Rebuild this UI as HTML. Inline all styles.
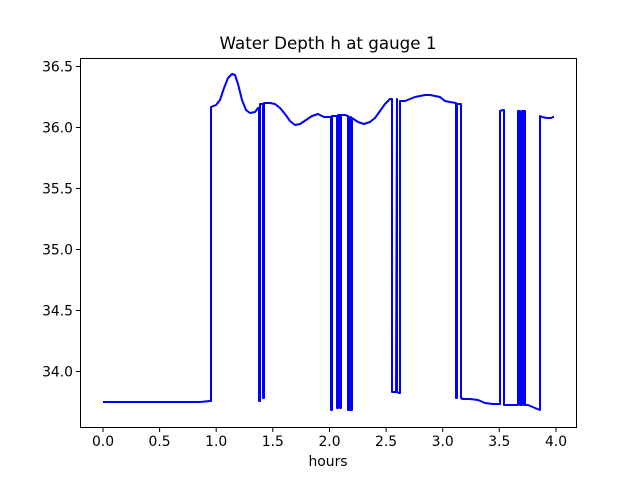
<!DOCTYPE html>
<html><head><meta charset="utf-8"><style>body{margin:0;background:#fff}svg{display:block}text{font-family:"DejaVu Sans","Liberation Sans",sans-serif;font-size:13.9px;fill:#000}</style></head><body>
<svg width="640" height="480" viewBox="0 0 640 480">
<rect width="640" height="480" fill="#fff"/>
<text x="328" y="49" text-anchor="middle" style="font-size:16.7px">Water Depth h at gauge 1</text>
<polyline fill="none" stroke="#0000ff" stroke-width="2" stroke-linejoin="round" points="
103,402 200,402 210,401 211,401 211,107 216,105 220,100 224,88 228,78 232,74 235,75 238,84 242,100 246,110 250,113 255,112 258,108 259,108 259,401 260,401 260,104 263,104 263,398 264,398 264,103 270,103 275,104 280,108 285,114 290,121 295,125 300,124 306,120 312,116 318,114 324,117 330,117 331,117 331,410 332,410 332,116 337,116 337,408 338,408 338,115 340,115 340,408 341,408 341,115 345,115 348,116 348,410 350,410 350,117 351,117 351,410 352,410 352,118 358,122 364,124 370,122 375,118 380,111 385,104 390,99 392,99 392,392 396,392 397,99 397,392 399,393 400,393 400,101 405,101 410,99 415,97 420,96 425,95 430,95 435,96 440,97 445,101 450,102 456,103 456,398 457,398 457,104 461,104 461,398 462,398 462,399 470,399 478,400 485,403 493,404 500,404 500,111 503,110 504,110 504,405 510,405 518,405 518,111 520,111 520,405 522,405 522,111 524,111 524,405 525,405 525,111 525,405 528,405 535,408 540,410 540,116 542,117 547,118 551,118 553,117 554,117"/>
<rect x="80.5" y="58.5" width="496" height="369" fill="none" stroke="#000" stroke-width="1"/>
<g stroke="#000" stroke-width="1">
<line x1="103" y1="427.5" x2="103" y2="432"/><line x1="159.6" y1="427.5" x2="159.6" y2="432"/><line x1="216.2" y1="427.5" x2="216.2" y2="432"/><line x1="272.8" y1="427.5" x2="272.8" y2="432"/><line x1="329.5" y1="427.5" x2="329.5" y2="432"/><line x1="386.1" y1="427.5" x2="386.1" y2="432"/><line x1="442.7" y1="427.5" x2="442.7" y2="432"/><line x1="499.3" y1="427.5" x2="499.3" y2="432"/><line x1="556" y1="427.5" x2="556" y2="432"/>
<line x1="76" y1="66.5" x2="80.5" y2="66.5"/><line x1="76" y1="127.5" x2="80.5" y2="127.5"/><line x1="76" y1="188.5" x2="80.5" y2="188.5"/><line x1="76" y1="249.5" x2="80.5" y2="249.5"/><line x1="76" y1="310.5" x2="80.5" y2="310.5"/><line x1="76" y1="371.5" x2="80.5" y2="371.5"/>
</g>
<g text-anchor="middle">
<text x="103" y="446">0.0</text><text x="159.6" y="446">0.5</text><text x="216.2" y="446">1.0</text><text x="272.8" y="446">1.5</text><text x="329.5" y="446">2.0</text><text x="386.1" y="446">2.5</text><text x="442.7" y="446">3.0</text><text x="499.3" y="446">3.5</text><text x="556" y="446">4.0</text>
<text x="328" y="466">hours</text>
</g>
<g text-anchor="end">
<text x="73" y="71.5">36.5</text><text x="73" y="132.5">36.0</text><text x="73" y="193.5">35.5</text><text x="73" y="254.5">35.0</text><text x="73" y="315.5">34.5</text><text x="73" y="376.5">34.0</text>
</g>
</svg>
</body></html>
